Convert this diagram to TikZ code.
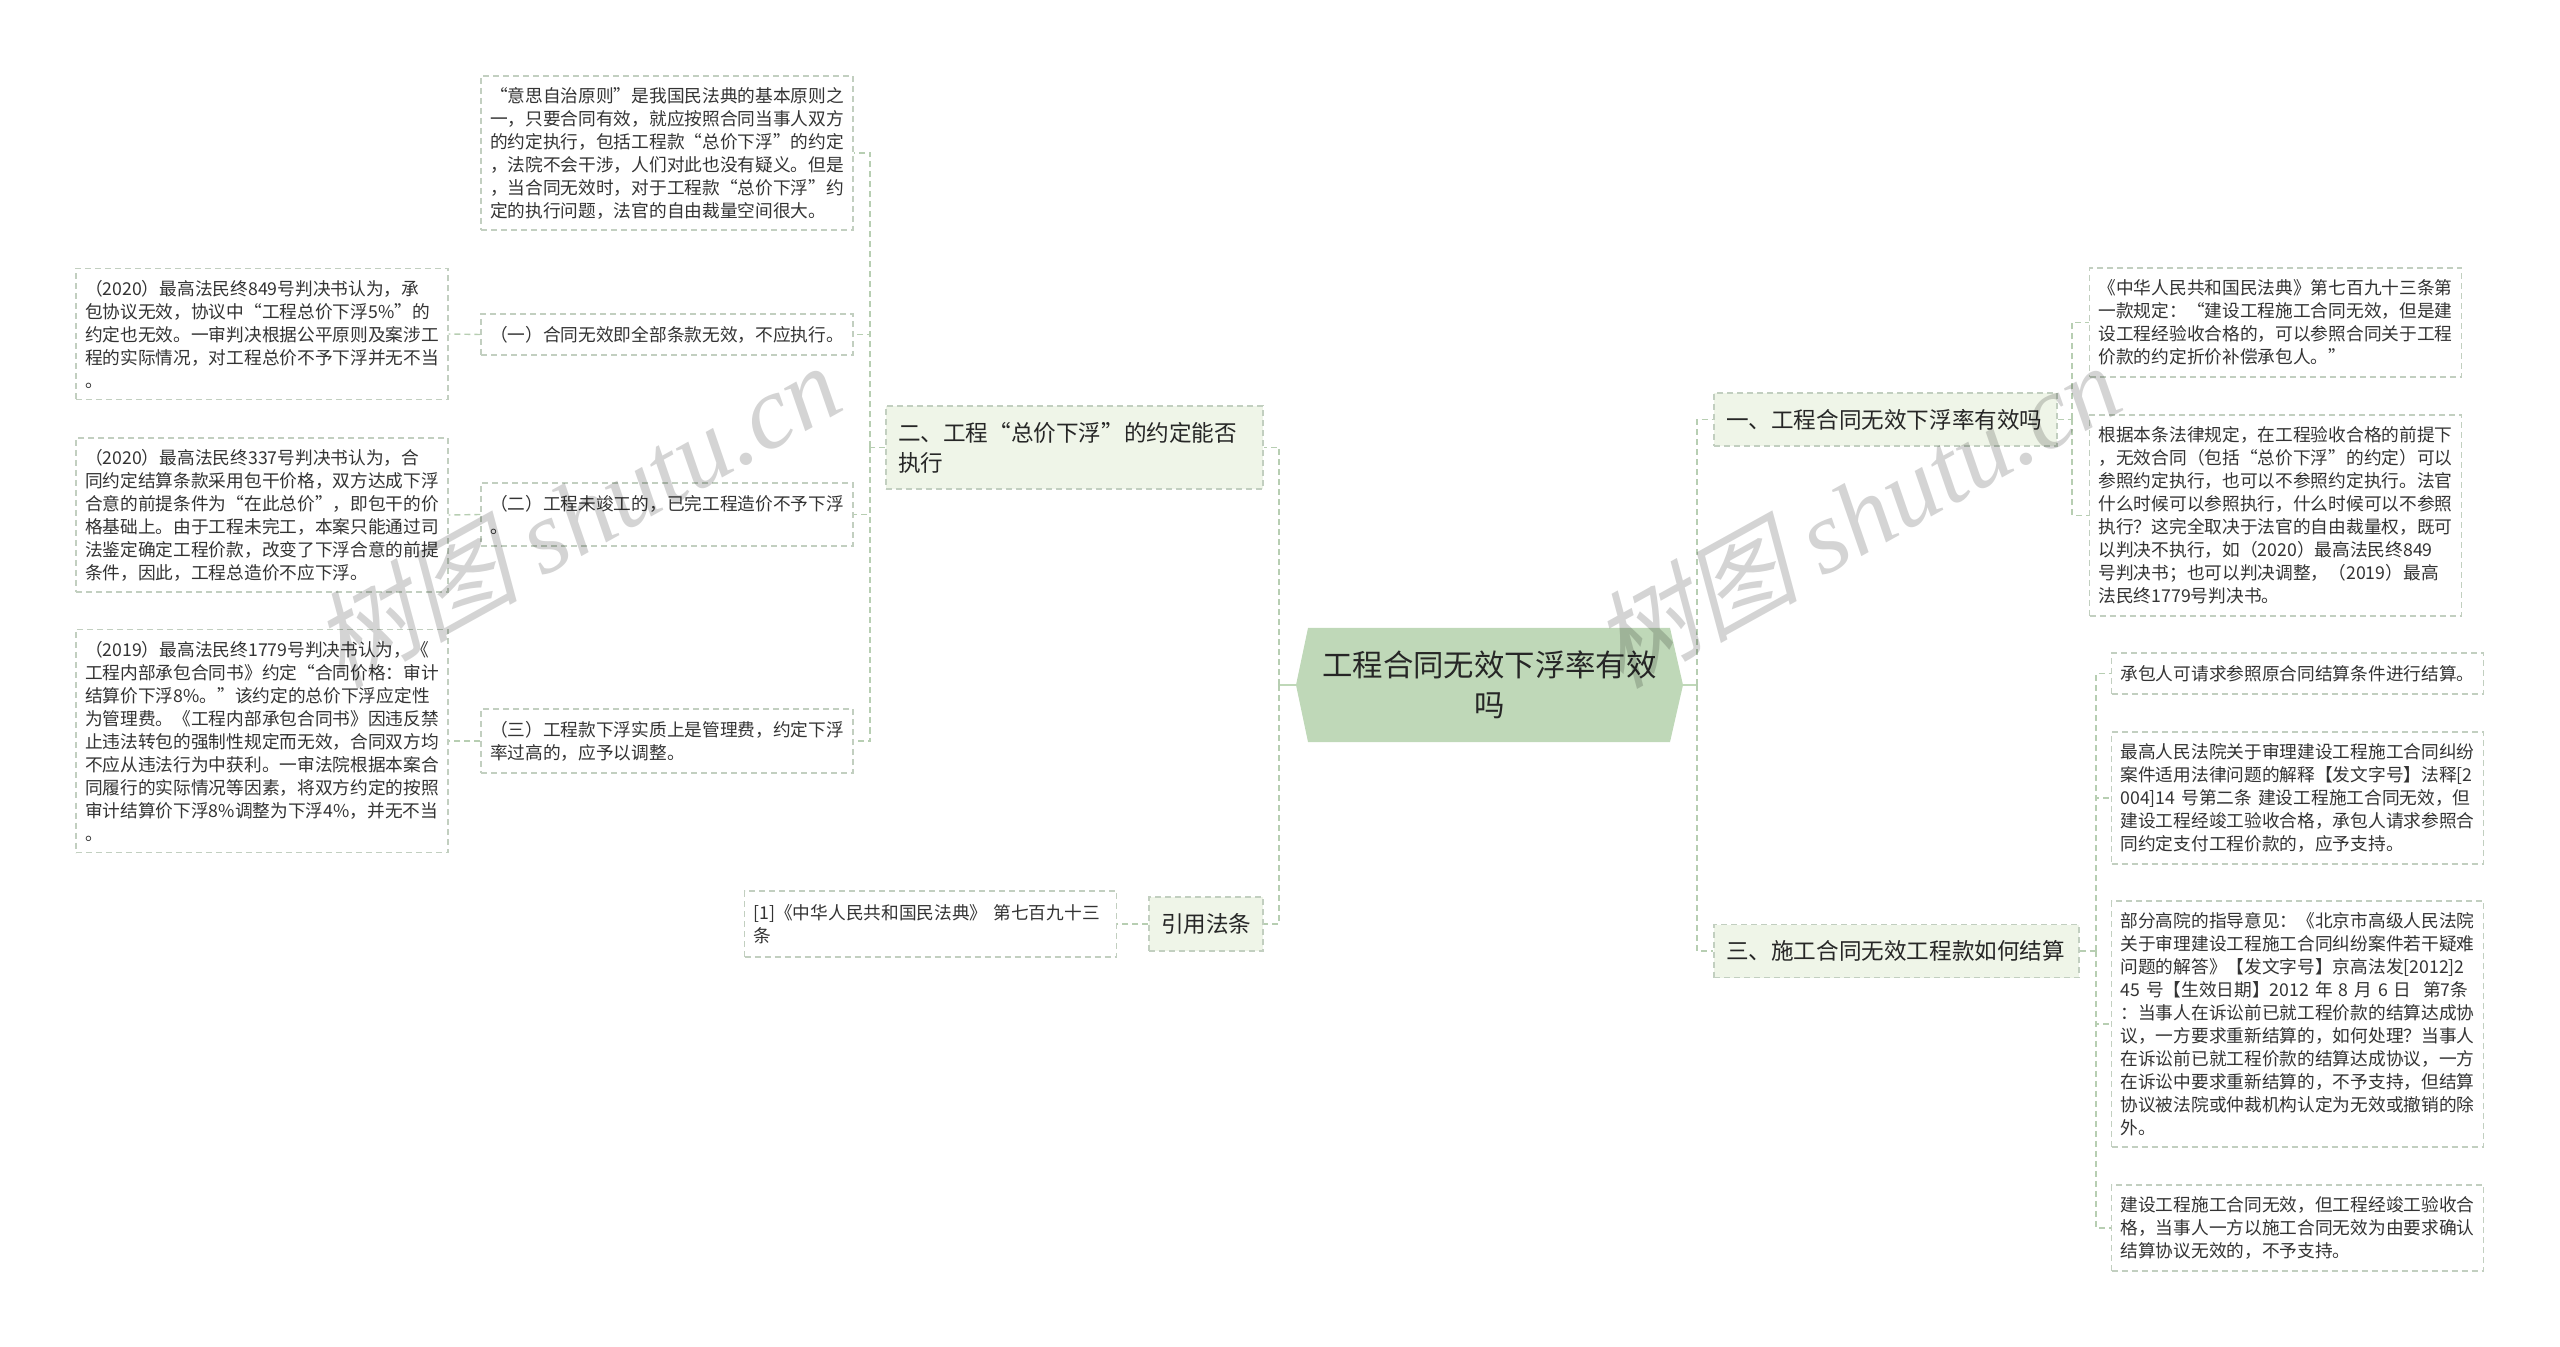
\documentclass[tikz,border=0pt]{standalone}
\usepackage{fontspec}
\setmainfont{Noto Sans CJK SC}
\newfontfamily\marklatin[Color=000000]{Liberation Serif}
\newfontfamily\markcjk[FakeSlant=0.25]{Noto Sans CJK SC}
\definecolor{rootgreen}{HTML}{BFD8B8}
\definecolor{leafgreen}{HTML}{EFF5E8}
\definecolor{dashgrey}{HTML}{C2CFC0}
\definecolor{linkgreen}{HTML}{B7CEB2}
\definecolor{inkgrey}{HTML}{333333}
\begin{document}
\begin{tikzpicture}[x=0.5pt, y=0.5pt,
  textbox/.style={draw=dashgrey, line width=0.7pt, dash pattern=on 3pt off 2pt, text=inkgrey, align=left,
    minimum width=186pt, text width=177pt, inner xsep=4.5pt, inner ysep=0pt,
    font=\fontsize{8.85}{11.5}\selectfont},
  leafbox/.style={textbox, fill=leafgreen, text=black!85,
    inner xsep=6pt, font=\fontsize{11.3}{15}\selectfont},
  link/.style={draw=linkgreen, line width=0.7pt, dash pattern=on 3pt off 2pt},
  stub/.style={draw=rootgreen, line width=1.4pt},
  markup/.style={text=black, opacity=0.17, rotate=29, inner sep=0pt, anchor=base west}]
\useasboundingbox (0,0) rectangle (2560,-1347);
\fill [rootgreen] (1296,-685) -- (1308,-628) -- (1670,-628) -- (1683,-685) -- (1670,-742) -- (1308,-742) -- cycle;
\draw (1489.5,-685) node (root) [minimum width=193.5pt, minimum height=57pt, inner sep=0pt, align=center, text=black!85, font=\fontsize{15.2}{20}\selectfont] {工程合同无效下浮率有效\\吗};
\coordinate (jointl) at (1279,-685);
\coordinate (jointr) at (1697,-685);
\draw (1074.5,-447.5) node (btwo) [leafbox, minimum width=188.5pt, text width=176.5pt, minimum height=41.5pt] {二、工程“总价下浮”的约定能否\\执行};
\draw (1206,-924) node (bcite) [leafbox, minimum width=57pt, text width=45pt, minimum height=27pt] {引用法条};
\draw (1885.5,-419.5) node (bone) [leafbox, minimum width=171.5pt, text width=159.5pt, minimum height=26.5pt] {一、工程合同无效下浮率有效吗};
\draw (1896.5,-951) node (bthree) [leafbox, minimum width=182.5pt, text width=170.5pt, minimum height=26.5pt] {三、施工合同无效工程款如何结算};
\coordinate (jointtwo) at (870,-447.5);
\coordinate (jointone) at (2072,-419.5);
\coordinate (jointthree) at (2096,-951);
\draw (667,-153) node (autonomy) [textbox, minimum height=77pt] {“意思自治原则”是我国民法典的基本原则之\\一，只要合同有效，就应按照合同当事人双方\\的约定执行，包括工程款“总价下浮”的约定\\，法院不会干涉，人们对此也没有疑义。但是\\，当合同无效时，对于工程款“总价下浮”约\\定的执行问题，法官的自由裁量空间很大。};
\draw (667,-334.5) node (cone) [textbox, minimum height=20.5pt] {（一）合同无效即全部条款无效，不应执行。};
\draw (667,-514.5) node (ctwo) [textbox, minimum height=31.5pt] {（二）工程未竣工的，已完工程造价不予下浮\\。};
\draw (667,-741) node (cthree) [textbox, minimum height=32pt] {（三）工程款下浮实质上是管理费，约定下浮\\率过高的，应予以调整。};
\draw (262,-334) node (case849) [textbox, minimum height=65.5pt] {（2020）最高法民终849号判决书认为，承\\包协议无效，协议中“工程总价下浮5\%”的\\约定也无效。一审判决根据公平原则及案涉工\\程的实际情况，对工程总价不予下浮并无不当\\。};
\draw (262,-515) node (case337) [textbox, minimum height=77pt] {（2020）最高法民终337号判决书认为，合\\同约定结算条款采用包干价格，双方达成下浮\\合意的前提条件为“在此总价”，即包干的价\\格基础上。由于工程未完工，本案只能通过司\\法鉴定确定工程价款，改变了下浮合意的前提\\条件，因此，工程总造价不应下浮。};
\draw (262,-741) node (case1779) [textbox, minimum height=111.5pt] {（2019）最高法民终1779号判决书认为，《\\工程内部承包合同书》约定“合同价格：审计\\结算价下浮8\%。”该约定的总价下浮应定性\\为管理费。《工程内部承包合同书》因违反禁\\止违法转包的强制性规定而无效，合同双方均\\不应从违法行为中获利。一审法院根据本案合\\同履行的实际情况等因素，将双方约定的按照\\审计结算价下浮8\%调整为下浮4\%，并无不当\\。};
\draw (930.5,-924) node (cite) [textbox, minimum height=33pt] {[1]《中华人民共和国民法典》 第七百九十三\\条};
\draw (2275.5,-322.5) node (art793) [textbox, minimum height=54.5pt] {《中华人民共和国民法典》第七百九十三条第\\一款规定：“建设工程施工合同无效，但是建\\设工程经验收合格的，可以参照合同关于工程\\价款的约定折价补偿承包人。”};
\draw (2275.5,-515.5) node (ruling) [textbox, minimum height=100.5pt] {根据本条法律规定，在工程验收合格的前提下\\，无效合同（包括“总价下浮”的约定）可以\\参照约定执行，也可以不参照约定执行。法官\\什么时候可以参照执行，什么时候可以不参照\\执行？这完全取决于法官的自由裁量权，既可\\以判决不执行，如（2020）最高法民终849\\号判决书；也可以判决调整，（2019）最高\\法民终1779号判决书。};
\draw (2297.5,-673.5) node (claim) [textbox, minimum height=20.5pt] {承包人可请求参照原合同结算条件进行结算。};
\draw (2297.5,-798) node (interp) [textbox, minimum height=66pt] {最高人民法院关于审理建设工程施工合同纠纷\\案件适用法律问题的解释【发文字号】法释[2\\004]14 号第二条 建设工程施工合同无效，但\\建设工程经竣工验收合格，承包人请求参照合\\同约定支付工程价款的，应予支持。};
\draw (2297.5,-1024) node (guide) [textbox, minimum height=123pt] {部分高院的指导意见：《北京市高级人民法院\\关于审理建设工程施工合同纠纷案件若干疑难\\问题的解答》【发文字号】京高法发[2012]2\\45 号【生效日期】2012 年 8 月 6 日~~第7条\\：当事人在诉讼前已就工程价款的结算达成协\\议，一方要求重新结算的，如何处理？当事人\\在诉讼前已就工程价款的结算达成协议，一方\\在诉讼中要求重新结算的，不予支持，但结算\\协议被法院或仲裁机构认定为无效或撤销的除\\外。};
\draw (2297.5,-1228) node (settle) [textbox, minimum height=43pt] {建设工程施工合同无效，但工程经竣工验收合\\格，当事人一方以施工合同无效为由要求确认\\结算协议无效的，不予支持。};
\draw [stub] (root.west) -- (jointl);
\draw [stub] (root.east) -- (jointr);
\draw [link] (jointl) |- (btwo.east);
\draw [link] (jointl) |- (bcite.east);
\draw [link] (jointr) |- (bone.west);
\draw [link] (jointr) |- (bthree.west);
\draw [link] (btwo.west) -- (jointtwo);
\draw [link] (jointtwo) |- (autonomy.east);
\draw [link] (jointtwo) |- (cone.east);
\draw [link] (jointtwo) |- (ctwo.east);
\draw [link] (jointtwo) |- (cthree.east);
\draw [link] (cone.west) -- (case849.east);
\draw [link] (ctwo.west) -- (case337.east);
\draw [link] (cthree.west) -- (case1779.east);
\draw [link] (bcite.west) -- (cite.east);
\draw [link] (bone.east) -- (jointone);
\draw [link] (jointone) |- (art793.west);
\draw [link] (jointone) |- (ruling.west);
\draw [link] (bthree.east) -- (jointthree);
\draw [link] (jointthree) |- (claim.west);
\draw [link] (jointthree) |- (interp.west);
\draw [link] (jointthree) |- (guide.west);
\draw [link] (jointthree) |- (settle.west);
\draw (340,-690) node (marka) [markup] {\fontsize{52}{52}\selectfont\markcjk 树图 \marklatin\itshape shutu.cn};
\draw (1620,-690) node (markb) [markup] {\fontsize{52}{52}\selectfont\markcjk 树图 \marklatin\itshape shutu.cn};
\draw (340,-1690) node (markc) [markup] {\fontsize{52}{52}\selectfont\markcjk 树图 \marklatin\itshape shutu.cn};
\draw (1620,-1690) node (markd) [markup] {\fontsize{52}{52}\selectfont\markcjk 树图 \marklatin\itshape shutu.cn};
\end{tikzpicture}
\end{document}
